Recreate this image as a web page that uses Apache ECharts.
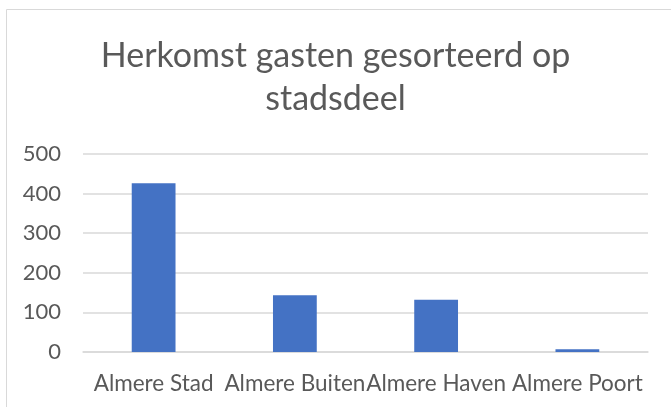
<!DOCTYPE html>
<html>
<head>
<meta charset="utf-8">
<script src="https://cdn.jsdelivr.net/npm/echarts@6/dist/echarts.min.js"></script>
<style>
  html, body { margin: 0; padding: 0; background: #fff; }
  #chart { width: 671px; height: 407px; }
</style>
</head>
<body>
<div id="chart"></div>
<script>
const categories = ['Almere Stad', 'Almere Buiten', 'Almere Haven', 'Almere Poort'];
const guests = [426, 143, 132, 7];
const yTicks = { min: 0, max: 500, interval: 100 };

const textColor = '#595959';
const fontFamily = 'Lato, "Liberation Sans", sans-serif';

const chart = echarts.init(document.getElementById('chart'));
chart.setOption({
  animation: false,
  textStyle: { fontFamily: fontFamily },
  graphic: [{
    type: 'rect',
    silent: true,
    shape: { x: 6.5, y: 9.5, width: 720, height: 440 },
    style: { fill: 'none', stroke: '#d9d9d9', lineWidth: 1 }
  }],
  title: {
    text: 'Herkomst gasten gesorteerd op\nstadsdeel',
    left: 'center',
    top: 35,
    padding: 0,
    textStyle: {
      color: textColor,
      fontSize: 34,
      fontWeight: 'normal',
      lineHeight: 43,
      fontFamily: fontFamily
    }
  },
  grid: { left: 83, right: 23, top: 154, bottom: 55, containLabel: false },
  xAxis: {
    type: 'category',
    data: categories,
    axisLine: { show: true, lineStyle: { color: '#d9d9d9', width: 1.5 } },
    axisTick: { show: false },
    axisLabel: { color: textColor, fontSize: 22.5, margin: 20, interval: 0 }
  },
  yAxis: {
    type: 'value',
    min: yTicks.min,
    max: yTicks.max,
    interval: yTicks.interval,
    axisLine: { show: false },
    axisTick: { show: false },
    splitLine: { lineStyle: { color: '#d9d9d9', width: 1.5 } },
    axisLabel: { color: textColor, fontSize: 22, margin: 22 }
  },
  series: [{
    type: 'bar',
    data: guests,
    barWidth: '31%',
    itemStyle: { color: '#4472C4' }
  }]
});
</script>
</body>
</html>
